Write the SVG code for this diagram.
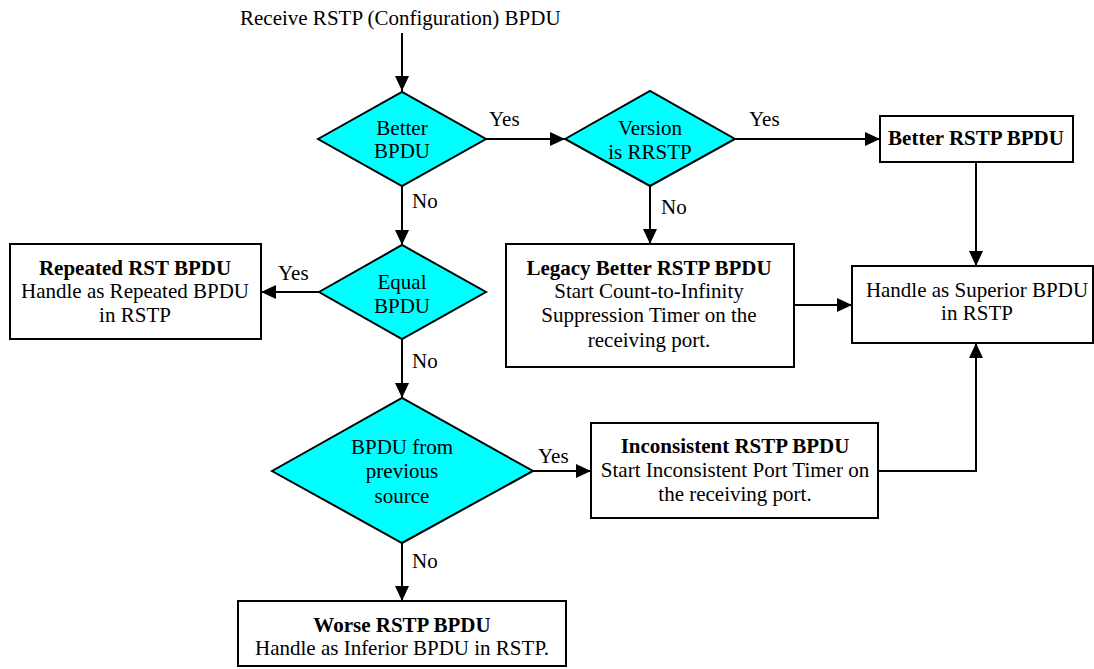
<svg xmlns="http://www.w3.org/2000/svg" width="1094" height="669" viewBox="0 0 1094 669">
<style>
text{font-family:"Liberation Serif",Tinos,"Noto Serif","DejaVu Serif",serif;font-size:21px;fill:#000}
.c{text-anchor:middle}
.b{font-weight:bold}
.dia{fill:#00FFFF;stroke:#000;stroke-width:2}
.box{fill:#fff;stroke:#000;stroke-width:2}
.ln{fill:none;stroke:#000;stroke-width:2;marker-end:url(#ah)}
</style>
<defs>
<marker id="ah" viewBox="0 0 15 14" refX="15" refY="7" markerWidth="15" markerHeight="14" markerUnits="userSpaceOnUse" orient="auto">
<path d="M0,0 L15,7 L0,14 z" fill="#000"/>
</marker>
</defs>
<rect width="1094" height="669" fill="#fff"/>
<g id="start"><text x="240" y="25">Receive RSTP (Configuration) BPDU</text></g>
<g id="connectors">
<path class="ln" d="M402,33 L402,91"/>
<path class="ln" d="M486,139 L565,139"/>
<path class="ln" d="M735,139 L880,139"/>
<path class="ln" d="M402,186 L402,245"/>
<path class="ln" d="M650,186 L650,244"/>
<path class="ln" d="M976,162 L976,266"/>
<path class="ln" d="M794,305 L852,305"/>
<path class="ln" d="M319,292 L261,292"/>
<path class="ln" d="M402,339 L402,398"/>
<path class="ln" d="M533,471 L591,471"/>
<path class="ln" d="M878,471 L976,471 L976,343"/>
<path class="ln" d="M402,543 L402,601"/>
<text x="489" y="126">Yes</text>
<text x="749" y="126">Yes</text>
<text x="412" y="208">No</text>
<text x="661" y="214">No</text>
<text x="278" y="280">Yes</text>
<text x="412" y="368">No</text>
<text x="538" y="463">Yes</text>
<text x="412" y="568">No</text>
</g>
<g id="better-bpdu">
<polygon class="dia" points="318,139 402,92 486,139 402,186"/>
<text class="c" x="402" y="135">Better</text>
<text class="c" x="402" y="158">BPDU</text>
</g>
<g id="version-rrstp">
<polygon class="dia" points="565,139 650,91 735,139 650,186"/>
<text class="c" x="650" y="135">Version</text>
<text class="c" x="650" y="159">is RRSTP</text>
</g>
<g id="better-rstp-bpdu">
<rect class="box" x="880" y="116" width="193" height="46"/>
<text class="c b" x="976" y="145">Better RSTP BPDU</text>
</g>
<g id="equal-bpdu">
<polygon class="dia" points="319,292 402,245 486,292 402,339"/>
<text class="c" x="402" y="289">Equal</text>
<text class="c" x="402" y="313">BPDU</text>
</g>
<g id="repeated">
<rect class="box" x="10" y="244" width="251" height="95"/>
<text class="c b" x="135" y="275">Repeated RST BPDU</text>
<text class="c" x="135" y="298">Handle as Repeated BPDU</text>
<text class="c" x="135" y="322">in RSTP</text>
</g>
<g id="legacy">
<rect class="box" x="506" y="244" width="288" height="123"/>
<text class="c b" x="649" y="275">Legacy Better RSTP BPDU</text>
<text class="c" x="649" y="298">Start Count-to-Infinity</text>
<text class="c" x="649" y="322">Suppression Timer on the</text>
<text class="c" x="649" y="347">receiving port.</text>
</g>
<g id="superior">
<rect class="box" x="852" y="266" width="241" height="77"/>
<text class="c" x="977" y="297">Handle as Superior BPDU</text>
<text class="c" x="977" y="320">in RSTP</text>
</g>
<g id="previous-source">
<polygon class="dia" points="272,471 402,398 533,471 402,543"/>
<text class="c" x="402" y="454">BPDU from</text>
<text class="c" x="402" y="478">previous</text>
<text class="c" x="402" y="503">source</text>
</g>
<g id="inconsistent">
<rect class="box" x="591" y="423" width="287" height="95"/>
<text class="c b" x="735" y="453">Inconsistent RSTP BPDU</text>
<text class="c" x="735" y="477">Start Inconsistent Port Timer on</text>
<text class="c" x="735" y="501">the receiving port.</text>
</g>
<g id="worse">
<rect class="box" x="238" y="601" width="328" height="65"/>
<text class="c b" x="402" y="632">Worse RSTP BPDU</text>
<text class="c" x="402" y="655">Handle as Inferior BPDU in RSTP.</text>
</g>
</svg>
